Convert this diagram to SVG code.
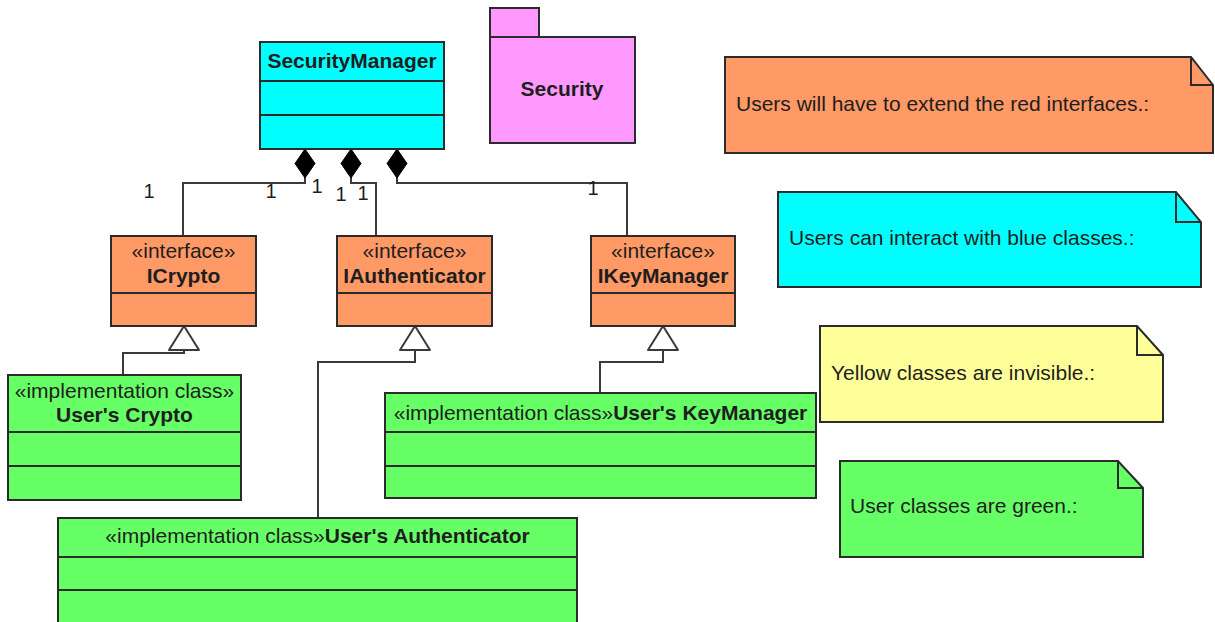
<svg xmlns="http://www.w3.org/2000/svg" width="1215" height="622" viewBox="0 0 1215 622">
<style>
  text { font-family: "Liberation Sans", Arial, sans-serif; font-size: 21px; fill: #1e1e1e; }
  .b { font-weight: bold; }
  .c { text-anchor: middle; }
  .box { stroke: #2b2b2b; stroke-width: 2; }
  .sep { stroke: #2b2b2b; stroke-width: 2; fill: none; }
  .cyan { fill: #00FFFF; }
  .orange { fill: #FF9966; }
  .green { fill: #66FF66; }
  .pink { fill: #FF99FF; }
  .yellow { fill: #FFFF99; }
  .conn { stroke: #3a3a3a; stroke-width: 2; fill: none; }
  .mult { font-size: 20px; text-anchor: middle; }
</style>
<defs>
  <marker id="diamond" markerUnits="userSpaceOnUse" markerWidth="32" markerHeight="24" refX="0" refY="10" orient="auto" overflow="visible">
    <polygon points="0,10 14.5,0 29,10 14.5,20" fill="#000" stroke="#000" stroke-width="1"/>
  </marker>
  <marker id="gen" markerUnits="userSpaceOnUse" markerWidth="26" markerHeight="32" refX="24" refY="15" orient="auto" overflow="visible">
    <polygon points="0,0 24,15 0,30" fill="#fff" stroke="#3a3a3a" stroke-width="2" stroke-linejoin="round"/>
  </marker>
</defs>

<g id="connectors">
  <path class="conn" d="M305,149 V183 H183 V236" marker-start="url(#diamond)"/>
  <path class="conn" d="M351,149 V183 H376 V236" marker-start="url(#diamond)"/>
  <path class="conn" d="M397,149 V183 H627 V236" marker-start="url(#diamond)"/>
  <path class="conn" d="M123,375 V353 H184 V326" marker-end="url(#gen)"/>
  <path class="conn" d="M318,518 V362 H415 V326" marker-end="url(#gen)"/>
  <path class="conn" d="M600,393 V362 H663 V326" marker-end="url(#gen)"/>
  <text class="mult" x="149" y="198">1</text>
  <text class="mult" x="271" y="198">1</text>
  <text class="mult" x="317" y="193">1</text>
  <text class="mult" x="341" y="201">1</text>
  <text class="mult" x="363" y="200">1</text>
  <text class="mult" x="593" y="195">1</text>
</g>

<g id="SecurityManager">
  <rect class="box cyan" x="260" y="42" width="184" height="107"/>
  <path class="sep" d="M260,81 H444 M260,115 H444"/>
  <text class="b c" x="352" y="68">SecurityManager</text>
</g>

<g id="Security">
  <rect class="box pink" x="490" y="8" width="49" height="29"/>
  <rect class="box pink" x="490" y="37" width="145" height="106"/>
  <text class="b c" x="562" y="96">Security</text>
</g>

<g id="ICrypto">
  <rect class="box orange" x="111" y="236" width="145" height="90"/>
  <path class="sep" d="M111,293 H256"/>
  <text class="c" x="183.5" y="258">«interface»</text>
  <text class="b c" x="183.5" y="283">ICrypto</text>
</g>

<g id="IAuthenticator">
  <rect class="box orange" x="337" y="236" width="155" height="90"/>
  <path class="sep" d="M337,293 H492"/>
  <text class="c" x="414.5" y="258">«interface»</text>
  <text class="b c" x="414.5" y="283">IAuthenticator</text>
</g>

<g id="IKeyManager">
  <rect class="box orange" x="591" y="236" width="144" height="90"/>
  <path class="sep" d="M591,293 H735"/>
  <text class="c" x="663" y="258">«interface»</text>
  <text class="b c" x="663" y="283">IKeyManager</text>
</g>

<g id="UsersCrypto">
  <rect class="box green" x="8" y="375" width="233" height="125"/>
  <path class="sep" d="M8,432 H241 M8,466 H241"/>
  <text class="c" x="124.5" y="398">«implementation class»</text>
  <text class="b c" x="124.5" y="422">User's Crypto</text>
</g>

<g id="UsersKeyManager">
  <rect class="box green" x="385" y="393" width="431" height="105"/>
  <path class="sep" d="M385,432 H816 M385,466 H816"/>
  <text class="c" x="600.5" y="420">«implementation class»<tspan class="b">User's KeyManager</tspan></text>
</g>

<g id="UsersAuthenticator">
  <rect class="box green" x="58" y="518" width="519" height="112"/>
  <path class="sep" d="M58,557 H577 M58,590 H577"/>
  <text class="c" x="317.5" y="543">«implementation class»<tspan class="b">User's Authenticator</tspan></text>
</g>

<g id="NoteRed">
  <polygon class="box orange" points="725,57 1191,57 1213,85 1213,153 725,153"/>
  <path class="sep" d="M1191,57 V85 H1213"/>
  <text x="736" y="111">Users will have to extend the red interfaces.:</text>
</g>

<g id="NoteBlue">
  <polygon class="box cyan" points="778,192 1176,192 1201,222 1201,287 778,287"/>
  <path class="sep" d="M1176,192 V222 H1201"/>
  <text x="789" y="245">Users can interact with blue classes.:</text>
</g>

<g id="NoteYellow">
  <polygon class="box yellow" points="820,326 1137,326 1163,355 1163,422 820,422"/>
  <path class="sep" d="M1137,326 V355 H1163"/>
  <text x="831" y="380">Yellow classes are invisible.:</text>
</g>

<g id="NoteGreen">
  <polygon class="box green" points="840,461 1118,461 1143,488 1143,557 840,557"/>
  <path class="sep" d="M1118,461 V488 H1143"/>
  <text x="850" y="513">User classes are green.:</text>
</g>
</svg>
